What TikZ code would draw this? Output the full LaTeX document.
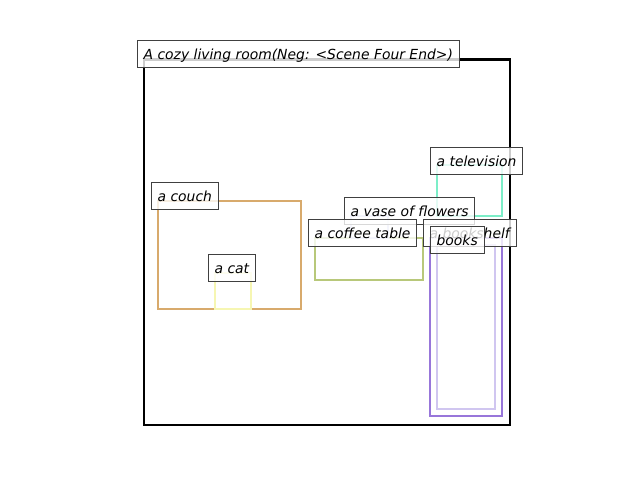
\documentclass[tikz,border=0pt]{standalone}
\usepackage{fontspec}
\setmainfont{DejaVu Sans}
\definecolor{couchc}{RGB}{216,170,108}
\definecolor{catc}{RGB}{246,246,178}
\definecolor{tablec}{RGB}{184,200,122}
\definecolor{vasec}{RGB}{202,206,242}
\definecolor{tvc}{RGB}{124,238,200}
\definecolor{shelfc}{RGB}{152,118,218}
\definecolor{booksc}{RGB}{208,198,240}
\definecolor{edgec}{RGB}{64,64,64}
\tikzset{
  lbl/.style={draw=edgec, line width=0.9pt, fill=white, fill opacity=0.8, text opacity=1,
    anchor=base west, inner xsep=6.2pt, inner ysep=4.2pt, text height=14.8pt, text depth=3.8pt,
    font=\fontsize{13.9}{16}\selectfont\itshape},
  obj/.style={line width=2.3pt}
}
\begin{document}
\begin{tikzpicture}[x=1pt,y=-1pt]
\useasboundingbox (0,0) rectangle (640,480);
% object boxes
\draw[obj, black] (144,59.5) rectangle (510,425);
\draw[obj, couchc] (158,201) rectangle (301,309);
\draw[obj, catc] (215,273) rectangle (251,309);
\draw[obj, tablec] (315,238) rectangle (423,280);
\draw[obj, vasec] (351,216) rectangle (388,238);
\draw[obj, tvc] (437,165) rectangle (502,216);
\draw[obj, shelfc] (430,238) rectangle (502,416);
\draw[obj, booksc] (437,245) rectangle (495,409);
% labels
\node[lbl] (title) at (137,59.5) {A cozy living room(Neg: <Scene Four End>)};
\node[lbl] (couch) at (151,201) {a couch};
\node[lbl] (cat) at (208,273.5) {a cat};
\node[lbl] (vase) at (344,216) {a vase of flowers};
\node[lbl] (table) at (308,238) {a coffee table};
\node[lbl] (tv) at (430,166) {a television};
\node[lbl] (shelf) at (423,238) {a bookshelf};
\node[lbl] (books) at (430,245) {books};
\end{tikzpicture}
\end{document}
